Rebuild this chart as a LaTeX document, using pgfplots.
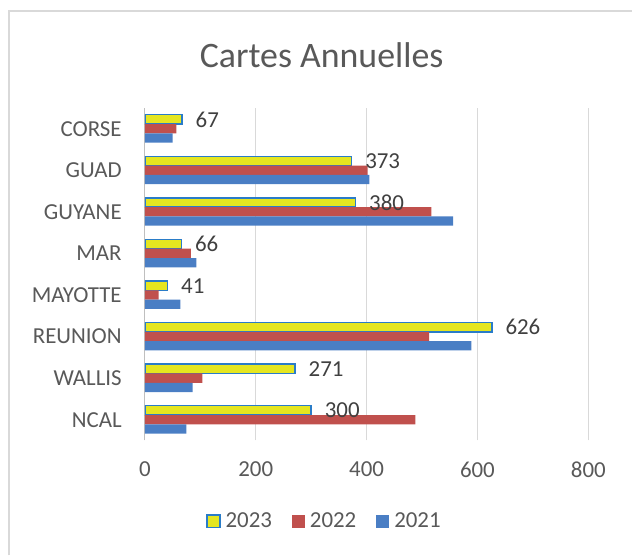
\documentclass[border=0pt]{standalone}
\usepackage{fontspec}
\setmainfont{Carlito}
\usepackage{pgfplots}
\pgfplotsset{compat=1.18}

\definecolor{txtgray}{HTML}{595959}
\definecolor{lblgray}{HTML}{404040}
\definecolor{gridgray}{HTML}{D9D9D9}
\definecolor{axgray}{HTML}{BFBFBF}
\definecolor{yel}{HTML}{E5E620}
\definecolor{yelborder}{HTML}{2A7CC8}
\definecolor{redbar}{HTML}{C0504D}
\definecolor{bluebar}{HTML}{4A7EC4}

\newcommand{\tickfont}{\fontsize{23}{23}\selectfont}

\begin{document}
\begin{tikzpicture}[x=1bp,y=1bp]
\path (0,0) rectangle (633,556);
% chart frame
\draw[gridgray, line width=1.5bp] (9,0) -- (9,545) -- (633,545);
% title
\node[txtgray, font=\fontsize{36}{36}\selectfont] at (322,501) {Cartes Annuelles};

\begin{axis}[
    at={(145bp,115bp)}, anchor=south west,
    scale only axis,
    width=444bp, height=333bp,
    xmin=0, xmax=800,
    ymin=-0.5, ymax=7.5,
    xtick={0,200,...,800},
    ytick={0,...,7},
    yticklabels={NCAL,WALLIS,REUNION,MAYOTTE,MAR,GUYANE,GUAD,CORSE},
    xmajorgrids,
    grid style={gridgray, line width=1.2bp},
    axis lines=left,
    x axis line style={draw=none},
    y axis line style={draw=axgray, line width=1.2bp, -},
    major tick length=0pt,
    /pgf/number format/assume math mode=true,
    tick label style={font=\tickfont, color=txtgray, inner sep=0pt},
    xticklabel style={anchor=north, yshift=-21bp},
    yticklabel style={anchor=east, xshift=-23bp},
    xbar,
    bar width=9.3bp,
    legend columns=3,
    legend style={
        at={(0.405,-0.243)}, anchor=center,
        draw=none, fill=none,
        font=\tickfont, text=txtgray,
        /tikz/every odd column/.append style={column sep=3bp},
        /tikz/every even column/.append style={column sep=18bp},
        nodes={inner sep=2bp},
    },
    legend image code/.code={\path[#1] (0bp,-6.5bp) rectangle (13bp,6.5bp);},
]
\addplot[fill=yel, draw=yelborder, line width=1.4bp, bar shift=9.3bp,
    nodes near coords,
    nodes near coords style={anchor=west, xshift=13bp, inner sep=0pt,
        font=\tickfont, color=lblgray},
] coordinates {
(300,0) (271,1) (626,2) (41,3) (66,4) (380,5) (373,6) (67,7)
};
\addplot[fill=redbar, draw=none, bar shift=0bp] coordinates {
(488,0) (104,1) (513,2) (25,3) (83,4) (517,5) (402,6) (57,7)
};
\addplot[fill=bluebar, draw=none, bar shift=-9.3bp] coordinates {
(75,0) (86,1) (589,2) (64,3) (93,4) (556,5) (405,6) (50,7)
};
\legend{2023,2022,2021}
\end{axis}
\end{tikzpicture}
\end{document}
